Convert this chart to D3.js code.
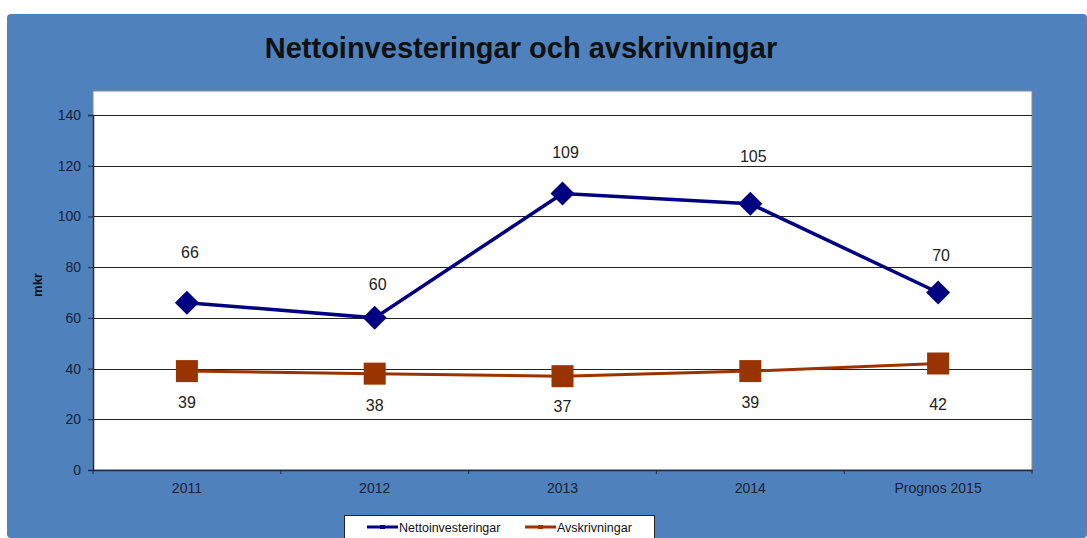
<!DOCTYPE html>
<html><head><meta charset="utf-8">
<script src="https://cdn.jsdelivr.net/npm/d3@7"></script>
<style>html,body{margin:0;padding:0;background:#fff;}svg{display:block;}</style>
</head><body>
<svg id="c" width="1087" height="538"></svg>
<script>
const categories = ["2011", "2012", "2013", "2014", "Prognos 2015"];
const netto = [66, 60, 109, 105, 70];
const avskr = [39, 38, 37, 39, 42];
const yTicks = [0, 20, 40, 60, 80, 100, 120, 140];
const seriesNames = ["Nettoinvesteringar", "Avskrivningar"];
const titleText = "Nettoinvesteringar och avskrivningar";
const yLabel = "mkr";

// layout nudges for the data labels (px, relative to point)
const nettoLabelDy = [-50, -33, -41, -47, -37];
const avskrLabelDy = [31, 32, 30, 31, 41];

const svg = d3.select("#c");
const W = 1087, H = 538;
const blue = "#4f81bd";
const navy = "#000080";
const brown = "#993300";
const txt = "#1a2238";
const font = "Liberation Sans, Arial, sans-serif";

svg.append("rect").attr("x", 7).attr("y", 14).attr("width", W - 7).attr("height", H - 14)
  .attr("fill", blue).attr("rx", 4);

const m = {left: 93, top: 91, right: 1032, bottom: 470};
const x = d3.scaleBand().domain(categories).range([m.left, m.right]);
const y = d3.scaleLinear().domain([0, 140]).range([m.bottom, 115]);

// plot area
svg.append("rect").attr("x", m.left).attr("y", m.top)
  .attr("width", m.right - m.left).attr("height", m.bottom - m.top)
  .attr("fill", "#fff").attr("stroke", "#8a8a8a").attr("stroke-width", 1);

// gridlines
svg.append("g").selectAll("line").data(yTicks.filter(d => d > 0)).join("line")
  .attr("x1", m.left).attr("x2", m.right)
  .attr("y1", d => Math.round(y(d)) + 0.5).attr("y2", d => Math.round(y(d)) + 0.5)
  .attr("stroke", "#222").attr("stroke-width", 1);

// y axis
const ya = svg.append("g").attr("transform", `translate(${m.left},0)`)
  .call(d3.axisLeft(y).tickValues(yTicks).tickSize(5).tickPadding(7));
ya.select(".domain").attr("stroke", "#1f2a44").attr("stroke-width", 1.5);
ya.selectAll(".tick line").attr("stroke", "#1f2a44");
ya.selectAll("text").attr("fill", txt).style("font-family", font).style("font-size", "14px");

// x axis
const xa = svg.append("g").attr("transform", `translate(0,${m.bottom})`)
  .call(d3.axisBottom(x).tickSize(0).tickPadding(13));
xa.select(".domain").attr("stroke", "#1f2a44").attr("stroke-width", 1.5);
xa.selectAll("text").attr("fill", txt).style("font-family", font).style("font-size", "14px");
svg.append("g").selectAll("line").data(categories.map(c => x(c)).concat([m.right])).join("line")
  .attr("x1", d => d).attr("x2", d => d).attr("y1", m.bottom).attr("y2", m.bottom + 4)
  .attr("stroke", "#1f2a44");

// title
svg.append("text").attr("x", 521).attr("y", 58).attr("text-anchor", "middle")
  .style("font-family", font).style("font-size", "29px").style("font-weight", "bold")
  .attr("fill", "#111").text(titleText);

// y label
svg.append("text").attr("transform", "translate(42,285) rotate(-90)").attr("text-anchor", "middle")
  .style("font-family", font).style("font-size", "13px").style("font-weight", "bold")
  .attr("fill", "#111").text(yLabel);

const cx = c => x(c) + x.bandwidth() / 2;
const line = d3.line().x((d, i) => cx(categories[i])).y(d => y(d));

svg.append("path").datum(avskr).attr("d", line).attr("fill", "none").attr("stroke", brown).attr("stroke-width", 3);
svg.append("path").datum(netto).attr("d", line).attr("fill", "none").attr("stroke", navy).attr("stroke-width", 3.5);

// markers
svg.append("g").selectAll("rect").data(avskr).join("rect")
  .attr("x", (d, i) => cx(categories[i]) - 11).attr("y", d => y(d) - 11)
  .attr("width", 22).attr("height", 22).attr("fill", brown);
svg.append("g").selectAll("path").data(netto).join("path")
  .attr("d", "M0,-12L12,0L0,12L-12,0Z")
  .attr("transform", (d, i) => `translate(${cx(categories[i])},${y(d)})`)
  .attr("fill", navy);

// data labels
const lblFont = g => g.style("font-family", font).style("font-size", "16px").attr("fill", "#222").attr("text-anchor", "middle").attr("dominant-baseline", "central");
svg.append("g").selectAll("text").data(netto).join("text")
  .attr("x", (d, i) => cx(categories[i]) + 3).attr("y", (d, i) => y(d) + nettoLabelDy[i])
  .text(d => d).call(lblFont);
svg.append("g").selectAll("text").data(avskr).join("text")
  .attr("x", (d, i) => cx(categories[i])).attr("y", (d, i) => y(d) + avskrLabelDy[i])
  .text(d => d).call(lblFont);

// legend
const lg = svg.append("g");
lg.append("rect").attr("x", 344.5).attr("y", 515.5).attr("width", 310).attr("height", 40)
  .attr("fill", "#fff").attr("stroke", "#222");
const legendItems = [
  {name: seriesNames[0], color: navy, x0: 367},
  {name: seriesNames[1], color: brown, x0: 525}
];
legendItems.forEach(it => {
  lg.append("line").attr("x1", it.x0).attr("x2", it.x0 + 31).attr("y1", 527).attr("y2", 527)
    .attr("stroke", it.color).attr("stroke-width", 3);
  lg.append("rect").attr("x", it.x0 + 13).attr("y", 525).attr("width", 5).attr("height", 4).attr("fill", it.color);
  lg.append("text").attr("x", it.x0 + 32).attr("y", 531.5)
    .style("font-family", font).style("font-size", "12.5px")
    .attr("fill", "#111").text(it.name);
});
</script>
</body></html>
